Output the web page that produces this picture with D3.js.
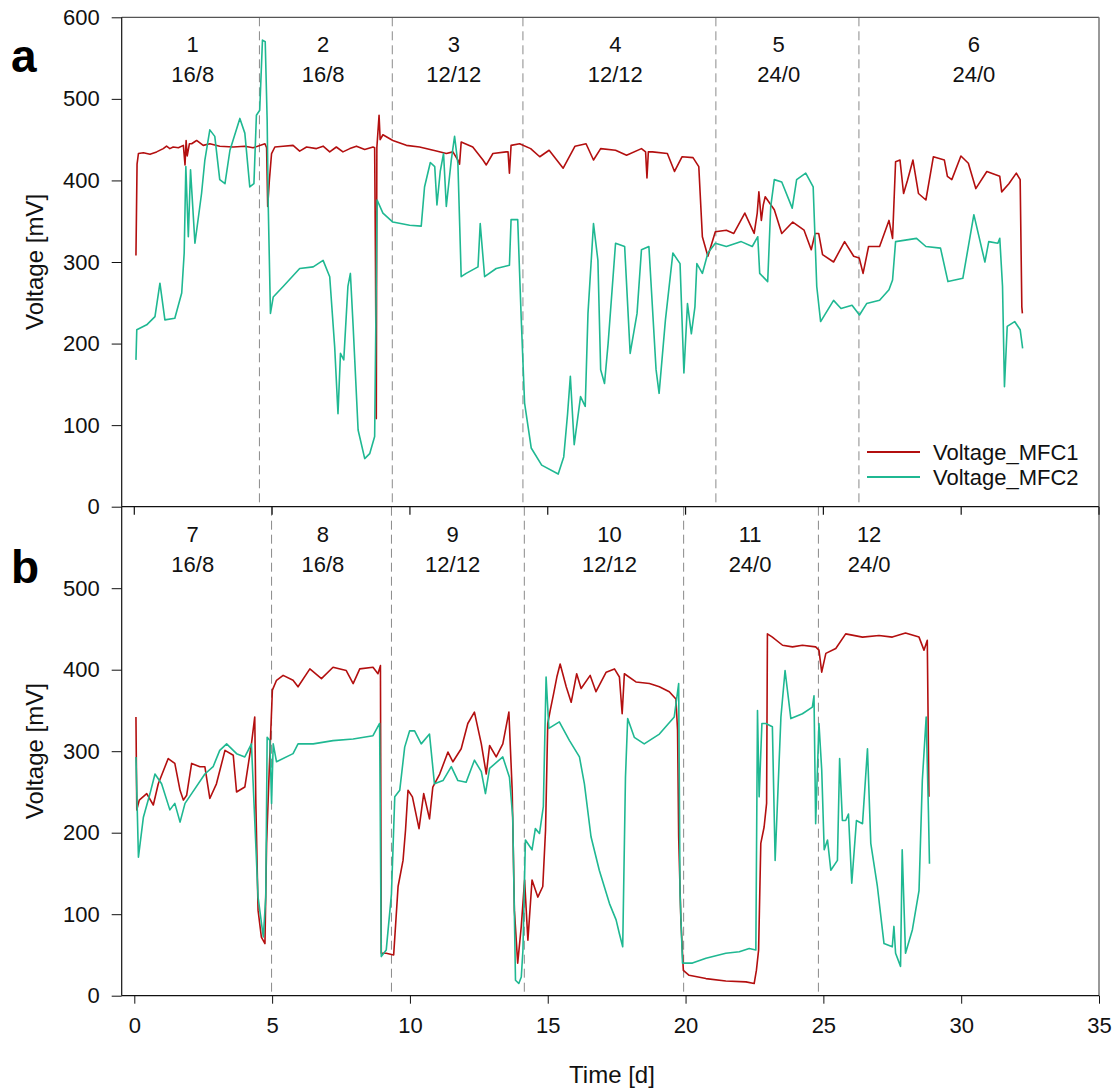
<!DOCTYPE html>
<html><head><meta charset="utf-8">
<script src="https://cdn.jsdelivr.net/npm/d3@7"></script>
<style>body{margin:0;background:#fff}svg{display:block;font-family:Arial,"Liberation Sans",sans-serif}</style>
</head><body><svg id="c" width="1117" height="1090"></svg>
<script>
// ---------- data ----------
const xTicks=[0,5,10,15,20,25,30,35];
const yTicksA=[0,100,200,300,400,500,600];
const yTicksB=[0,100,200,300,400,500];
const seriesNames=["Voltage_MFC1","Voltage_MFC2"];
const dividersA=[4.54,9.36,14.1,21.1,26.29];
const dividersB=[4.98,9.33,14.15,19.93,24.82];
const periodsA=[[2.12,"1","16/8"],[6.85,"2","16/8"],[11.59,"3","12/12"],[17.45,"4","12/12"],[23.38,"5","24/0"],[30.46,"6","24/0"]];
const periodsB=[[2.12,"7","16/8"],[6.84,"8","16/8"],[11.55,"9","12/12"],[17.24,"10","12/12"],[22.34,"11","24/0"],[26.66,"12","24/0"]];
const mfc1A=[[0.06,308],[0.1,420],[0.15,433],[0.33,434],[0.57,432],[0.81,435],[1.05,439],[1.17,442],[1.29,439],[1.41,441],[1.6,440],[1.78,443],[1.84,419],[1.88,449],[1.92,430],[2.0,445],[2.08,445],[2.26,449],[2.5,443],[2.74,445],[3.1,442],[3.59,441],[4.01,442],[4.31,440],[4.74,445],[4.8,440],[4.84,368],[4.9,400],[4.98,433],[5.1,441],[5.4,442],[5.76,443],[6.0,436],[6.25,441],[6.61,439],[6.85,442],[7.09,435],[7.33,441],[7.57,435],[7.82,439],[8.06,442],[8.36,438],[8.66,441],[8.72,440],[8.75,300],[8.78,108],[8.8,440],[8.84,460],[8.88,480],[8.92,450],[9.02,456],[9.38,449],[9.87,443],[10.35,441],[10.96,436],[11.32,433],[11.56,435],[11.74,425],[11.8,420],[11.86,447],[12.28,441],[12.65,425],[12.77,419],[13.01,433],[13.49,435],[13.56,435],[13.61,409],[13.67,443],[13.98,445],[14.38,439],[14.71,429],[15.05,437],[15.56,415],[15.99,442],[16.39,445],[16.66,425],[16.92,439],[17.46,437],[17.86,431],[18.4,439],[18.55,435],[18.6,403],[18.65,435],[18.8,435],[19.34,433],[19.6,411],[19.87,429],[20.27,428],[20.48,417],[20.61,331],[20.81,307],[21.08,337],[21.48,339],[21.75,335],[22.15,360],[22.49,335],[22.6,360],[22.66,386],[22.75,351],[22.82,370],[22.89,380],[23.22,364],[23.49,335],[23.89,349],[24.3,339],[24.56,315],[24.7,335],[24.83,335],[24.97,309],[25.37,300],[25.77,325],[26.1,307],[26.3,305],[26.44,286],[26.64,319],[27.04,319],[27.38,351],[27.51,329],[27.62,423],[27.78,425],[27.91,384],[28.05,400],[28.25,425],[28.45,384],[28.72,376],[28.99,429],[29.39,425],[29.5,405],[29.66,401],[29.99,430],[30.26,421],[30.53,390],[30.93,411],[31.4,405],[31.47,386],[31.73,396],[32.0,409],[32.14,401],[32.2,245],[32.22,237]];
const mfc2A=[[0.06,180],[0.09,217],[0.45,223],[0.75,233],[0.93,274],[1.11,229],[1.47,231],[1.72,262],[1.81,311],[1.87,417],[1.96,331],[2.04,413],[2.2,323],[2.44,384],[2.56,425],[2.74,462],[2.92,454],[3.1,401],[3.29,396],[3.47,437],[3.83,476],[4.01,458],[4.19,392],[4.34,396],[4.43,480],[4.55,486],[4.65,572],[4.75,570],[4.82,474],[4.86,368],[4.94,237],[5.04,257],[5.4,270],[6.0,292],[6.49,294],[6.85,302],[7.09,282],[7.27,196],[7.39,114],[7.48,188],[7.6,180],[7.75,270],[7.84,286],[7.94,221],[8.12,94],[8.36,59],[8.54,65],[8.72,86],[8.81,376],[9.02,360],[9.38,349],[9.99,345],[10.41,344],[10.53,392],[10.74,422],[10.9,417],[10.98,370],[11.1,411],[11.22,433],[11.32,368],[11.5,425],[11.62,454],[11.74,421],[11.86,282],[12.04,286],[12.47,294],[12.55,347],[12.71,282],[13.13,292],[13.61,296],[13.67,352],[13.91,352],[14.04,229],[14.16,127],[14.4,72],[14.78,51],[15.38,40],[15.58,61],[15.72,114],[15.82,160],[15.96,76],[16.19,135],[16.36,123],[16.46,237],[16.66,347],[16.82,302],[16.92,168],[17.06,151],[17.19,200],[17.46,323],[17.79,319],[17.99,188],[18.24,237],[18.4,315],[18.67,319],[18.93,168],[19.04,139],[19.27,229],[19.54,311],[19.8,298],[19.94,164],[20.07,249],[20.21,212],[20.34,245],[20.41,298],[20.61,286],[20.81,311],[21.08,323],[21.48,319],[22.02,325],[22.42,319],[22.62,331],[22.69,286],[22.98,276],[23.09,368],[23.22,401],[23.49,398],[23.87,366],[24.03,401],[24.36,409],[24.63,392],[24.76,270],[24.9,227],[25.37,253],[25.64,243],[26.04,247],[26.31,235],[26.57,249],[27.04,253],[27.38,266],[27.51,278],[27.62,325],[28.38,329],[28.72,319],[29.25,317],[29.52,276],[30.06,280],[30.46,358],[30.86,300],[31.0,325],[31.33,323],[31.4,329],[31.5,270],[31.57,147],[31.67,221],[31.94,227],[32.14,217],[32.23,194]];
const mfc1B=[[0.06,342],[0.09,228],[0.18,240],[0.45,248],[0.69,234],[0.87,260],[1.23,291],[1.47,285],[1.66,252],[1.78,240],[1.9,246],[2.08,285],[2.38,281],[2.56,281],[2.74,242],[2.98,260],[3.29,301],[3.59,295],[3.71,250],[4.01,256],[4.25,309],[4.37,342],[4.41,236],[4.49,105],[4.61,72],[4.74,64],[4.8,187],[4.89,272],[5.01,375],[5.16,387],[5.4,393],[5.76,387],[5.94,379],[6.37,401],[6.79,389],[7.21,403],[7.69,399],[7.94,383],[8.18,401],[8.66,403],[8.84,395],[8.93,405],[8.96,52],[9.14,52],[9.41,50],[9.57,134],[9.75,166],[9.84,203],[9.93,252],[10.09,244],[10.33,205],[10.5,248],[10.71,217],[10.83,256],[11.08,272],[11.38,299],[11.56,287],[11.86,303],[12.1,334],[12.34,348],[12.59,309],[12.77,272],[12.89,307],[13.13,293],[13.37,309],[13.59,348],[13.71,252],[13.79,105],[13.91,40],[14.04,85],[14.16,142],[14.28,68],[14.43,142],[14.64,121],[14.82,134],[14.92,203],[15.0,334],[15.09,350],[15.21,370],[15.33,391],[15.45,407],[15.67,379],[15.85,360],[16.05,395],[16.21,377],[16.54,393],[16.75,373],[17.12,397],[17.42,401],[17.6,391],[17.7,346],[17.78,395],[18.2,385],[18.69,383],[19.05,379],[19.41,373],[19.65,364],[19.71,326],[19.75,195],[19.83,93],[19.92,31],[20.13,25],[20.74,21],[21.46,18],[22.19,17],[22.49,15],[22.57,31],[22.65,56],[22.73,187],[22.85,207],[22.94,236],[22.97,444],[23.15,440],[23.52,430],[23.88,428],[24.24,430],[24.72,428],[24.84,424],[24.94,397],[25.09,420],[25.45,426],[25.81,444],[26.42,440],[27.02,442],[27.5,440],[27.98,445],[28.47,440],[28.65,424],[28.77,436],[28.83,244]];
const mfc2B=[[0.06,293],[0.15,170],[0.33,219],[0.57,248],[0.75,272],[0.99,260],[1.29,228],[1.47,236],[1.66,213],[1.84,236],[2.08,248],[2.56,272],[2.86,281],[3.1,301],[3.35,309],[3.71,297],[4.01,293],[4.25,309],[4.37,215],[4.49,121],[4.68,72],[4.77,121],[4.82,317],[4.92,313],[4.98,236],[5.04,309],[5.16,287],[5.76,297],[5.94,309],[6.49,309],[7.21,313],[7.94,315],[8.66,319],[8.9,334],[8.96,48],[9.14,56],[9.33,125],[9.45,244],[9.63,252],[9.81,305],[9.99,325],[10.17,325],[10.41,309],[10.71,321],[10.89,260],[11.2,264],[11.5,281],[11.74,264],[12.04,262],[12.34,289],[12.59,275],[12.74,248],[12.89,279],[13.37,293],[13.61,268],[13.73,219],[13.83,19],[13.95,15],[14.04,23],[14.1,56],[14.19,191],[14.43,179],[14.55,205],[14.7,199],[14.84,232],[14.94,391],[15.04,328],[15.42,336],[15.79,313],[16.15,293],[16.33,260],[16.57,195],[16.87,154],[17.24,113],[17.48,93],[17.6,76],[17.72,60],[17.82,268],[17.9,340],[18.14,317],[18.5,309],[19.05,321],[19.59,342],[19.75,383],[19.8,125],[19.89,40],[20.25,40],[20.74,46],[21.46,52],[21.95,54],[22.31,58],[22.55,56],[22.61,350],[22.67,244],[22.77,334],[22.91,334],[23.15,330],[23.25,166],[23.46,342],[23.61,399],[23.82,340],[24.24,346],[24.6,354],[24.66,368],[24.72,211],[24.84,334],[24.94,277],[25.03,179],[25.15,191],[25.27,154],[25.51,166],[25.59,291],[25.69,215],[25.81,215],[25.91,223],[26.03,138],[26.2,215],[26.42,211],[26.6,303],[26.72,187],[26.96,134],[27.2,64],[27.5,60],[27.56,85],[27.62,52],[27.8,36],[27.86,179],[27.98,52],[28.23,81],[28.47,129],[28.59,264],[28.73,342],[28.81,228],[28.85,162]];

// ---------- layout ----------
const RED="#b30f0f", GREEN="#1fb892";
const svg=d3.select("#c");
const L=121.7, R=1099;
const x=d3.scaleLinear().domain([0,35]).range([134.3,1099]);
const panels=[
  {top:17.3,bot:506.7,ticks:yTicksA,s1:mfc1A,s2:mfc2A,div:dividersA,per:periodsA,lab:"a",labY:72,topTicks:false},
  {top:506.7,bot:995.7,ticks:yTicksB,s1:mfc1B,s2:mfc2B,div:dividersB,per:periodsB,lab:"b",labY:583,topTicks:true}
];
panels.forEach(p=>{
  const y=d3.scaleLinear().domain([0,600]).range([p.bot,p.top]);
  const g=svg.append("g");
  g.selectAll("line.div").data(p.div).join("line")
    .attr("x1",d=>x(d)).attr("x2",d=>x(d)).attr("y1",p.top).attr("y2",p.bot)
    .attr("stroke","#8a8a8a").attr("stroke-width",1).attr("stroke-dasharray","9,5");
  const line=d3.line().x(d=>x(d[0])).y(d=>y(d[1]));
  g.append("path").datum(p.s1).attr("d",line).attr("fill","none").attr("stroke",RED).attr("stroke-width",1.6).attr("stroke-linejoin","round");
  g.append("path").datum(p.s2).attr("d",line).attr("fill","none").attr("stroke",GREEN).attr("stroke-width",1.6).attr("stroke-linejoin","round");
  g.append("line").attr("x1",L).attr("x2",R).attr("y1",p.top).attr("y2",p.top).attr("stroke",p.topTicks?"#111":"#555").attr("stroke-width",1.2);
  g.append("line").attr("x1",R).attr("x2",R).attr("y1",p.top).attr("y2",p.bot).attr("stroke","#777").attr("stroke-width",1.5);
  const ya=d3.axisLeft(y).tickValues(p.ticks).tickSize(10).tickPadding(12).tickFormat(d3.format("d"));
  const yg=g.append("g").attr("transform",`translate(${L},0)`).call(ya);
  yg.select(".domain").attr("d",`M0,${p.top}V${p.bot}`).attr("stroke","#111").attr("stroke-width",1.2);
  yg.selectAll(".tick line").attr("stroke","#111");
  yg.selectAll("text").attr("font-size",22).attr("fill","#111").attr("font-family","Arial, 'Liberation Sans', sans-serif");
  if(p.topTicks){
    g.selectAll("line.tt").data(xTicks).join("line")
      .attr("x1",d=>x(d)).attr("x2",d=>x(d)).attr("y1",p.top).attr("y2",p.top+8).attr("stroke","#111").attr("stroke-width",1.2);
  }
  p.per.forEach(d=>{
    g.append("text").attr("x",x(d[0])).attr("y",p.top+35).attr("text-anchor","middle").attr("font-size",22).attr("fill","#111").text(d[1]);
    g.append("text").attr("x",x(d[0])).attr("y",p.top+65).attr("text-anchor","middle").attr("font-size",22).attr("fill","#111").text(d[2]);
  });
  g.append("text").attr("x",11).attr("y",p.labY).attr("font-size",46).attr("font-weight","bold").attr("fill","#000").text(p.lab);
  g.append("text").attr("transform",`translate(43,${(p.top+p.bot)/2}) rotate(-90)`).attr("text-anchor","middle").attr("font-size",24).attr("fill","#111").text("Voltage [mV]");
});
const xa=d3.axisBottom(x).tickValues(xTicks).tickSize(8).tickPadding(14).tickFormat(d3.format("d"));
const xg=svg.append("g").attr("transform","translate(0,995.7)").call(xa);
xg.select(".domain").attr("d",`M${L},0H${R}`).attr("stroke","#111").attr("stroke-width",1.2);
xg.selectAll(".tick line").attr("stroke","#111");
xg.selectAll("text").attr("font-size",22).attr("fill","#111").attr("font-family","Arial, 'Liberation Sans', sans-serif");
svg.append("text").attr("x",612).attr("y",1083).attr("text-anchor","middle").attr("font-size",24).attr("fill","#111").text("Time [d]");
const leg=svg.append("g");
[RED,GREEN].forEach((c,i)=>{
  leg.append("line").attr("x1",867).attr("x2",920).attr("y1",452+25*i).attr("y2",452+25*i).attr("stroke",c).attr("stroke-width",1.8);
  leg.append("text").attr("x",933).attr("y",460+25*i).attr("font-size",22).attr("fill","#111").text(seriesNames[i]);
});
</script></body></html>
